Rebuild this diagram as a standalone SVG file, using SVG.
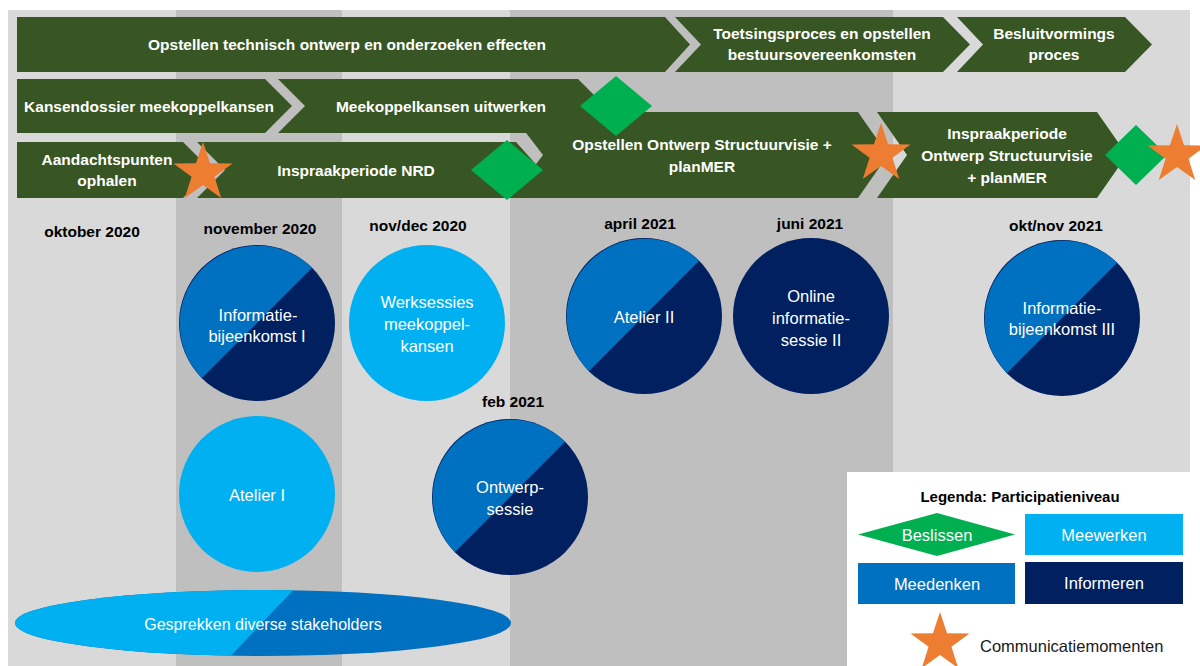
<svg xmlns="http://www.w3.org/2000/svg" xmlns:xlink="http://www.w3.org/1999/xlink" width="1200" height="666" viewBox="0 0 1200 666">
<style>
.arrow{fill:#375623}
.at{font-family:"Liberation Sans",Arial,sans-serif;font-weight:bold;font-size:15.5px;fill:#ffffff;text-anchor:middle}
.month{font-family:"Liberation Sans",Arial,sans-serif;font-weight:bold;font-size:15.5px;fill:#000000;text-anchor:middle}
.ct{font-family:"Liberation Sans",Arial,sans-serif;font-size:16.5px;fill:#ffffff;text-anchor:middle}
.dia{fill:#00b050}
.star{fill:#ed7d31}
.light{fill:#d9d9d9}
.dark{fill:#bfbfbf}
</style>
<defs>
<polygon id="star" points="0,-31 7.05,-9.71 29.48,-9.58 11.41,3.71 18.22,25.08 0,12 -18.22,25.08 -11.41,3.71 -29.48,-9.58 -7.05,-9.71"/>
<g id="split"><circle r="78" fill="#002060"/><path d="M55.15,-55.15 A78,78 0 0 0 -55.15,55.15 Z" fill="#0070c0"/></g>
<clipPath id="ellClip"><ellipse cx="263" cy="623" rx="248" ry="33"/></clipPath>
</defs>
<rect width="1200" height="666" fill="#ffffff"/>
<g id="background">
<rect class="light" x="8" y="10" width="168" height="656"/>
<rect class="dark" x="176" y="10" width="166" height="656"/>
<rect class="light" x="342" y="10" width="168" height="656"/>
<rect class="dark" x="510" y="10" width="383" height="656"/>
<rect class="light" x="893" y="10" width="297" height="656"/>
</g>
<g id="connectors"></g>
<g id="phase-technisch-ontwerp">
<polygon class="arrow" points="17,17 665,17 690,44.5 665,72 17,72"/>
<text class="at" x="347" y="50">Opstellen technisch ontwerp en onderzoeken effecten</text>
</g>
<g id="phase-toetsingsproces">
<polygon class="arrow" points="675,17 943,17 970,44.5 943,72 675,72 701,44.5"/>
<text class="at" x="822" y="39">Toetsingsproces en opstellen</text>
<text class="at" x="822" y="60">bestuursovereenkomsten</text>
</g>
<g id="phase-besluitvorming">
<polygon class="arrow" points="957,17 1125,17 1152,44.5 1125,72 957,72 983,44.5"/>
<text class="at" x="1054" y="39">Besluitvormings</text>
<text class="at" x="1054" y="60">proces</text>
</g>
<g id="phase-kansendossier">
<polygon class="arrow" points="17,79 265,79 292,106 265,133 17,133"/>
<text class="at" x="149" y="112">Kansendossier meekoppelkansen</text>
</g>
<g id="phase-ontwerp-structuurvisie">
<polygon class="arrow" points="510,112 858,112 888,155 858,198 510,198 543,155"/>
<text class="at" x="702" y="150">Opstellen Ontwerp Structuurvisie +</text>
<text class="at" x="702" y="172">planMER</text>
</g>
<g id="phase-meekoppelkansen-uitwerken">
<polygon class="arrow" points="278,79 578,79 605,106 578,133 278,133 305,106"/>
<text class="at" x="441" y="112">Meekoppelkansen uitwerken</text>
</g>
<g id="phase-aandachtspunten">
<polygon class="arrow" points="17,142 183,142 211,170 183,198 17,198"/>
<text class="at" x="107" y="165">Aandachtspunten</text>
<text class="at" x="107" y="186">ophalen</text>
</g>
<g id="phase-inspraak-nrd">
<polygon class="arrow" points="197,142 516,142 541,170 516,198 197,198 225,170"/>
<text class="at" x="356" y="176">Inspraakperiode NRD</text>
</g>
<g id="phase-inspraak-ontwerp">
<polygon class="arrow" points="877,112 1097,112 1127,155 1097,198 877,198 907,155"/>
<text class="at" x="1007" y="139">Inspraakperiode</text>
<text class="at" x="1007" y="161">Ontwerp Structuurvisie</text>
<text class="at" x="1007" y="183">+ planMER</text>
</g>
<g id="decision-1"><polygon class="dia" points="616,76 652,106 616,136 580,106"/></g>
<g id="decision-2"><polygon class="dia" points="507,140 543,170 507,200 471,170"/></g>
<g id="decision-3"><polygon class="dia" points="1136,125 1167,155 1136,185 1105,155"/></g>
<g id="comm-1"><use xlink:href="#star" href="#star" class="star" x="203" y="173"/></g>
<g id="comm-2"><use xlink:href="#star" href="#star" class="star" x="881" y="154"/></g>
<g id="comm-3"><use xlink:href="#star" href="#star" class="star" x="1177" y="155"/></g>
<g id="months">
<text class="month" x="92" y="237">oktober 2020</text>
<text class="month" x="260" y="234">november 2020</text>
<text class="month" x="418" y="231">nov/dec 2020</text>
<text class="month" x="640" y="229">april 2021</text>
<text class="month" x="810" y="229">juni 2021</text>
<text class="month" x="513" y="407">feb 2021</text>
<text class="month" x="1056" y="231">okt/nov 2021</text>
</g>
<g id="informatiebijeenkomst-1" transform="translate(257,323)">
<use xlink:href="#split" href="#split"/>
<text class="ct" x="1" y="-2.5">Informatie-</text>
<text class="ct" x="0" y="18.5">bijeenkomst I</text>
</g>
<g id="atelier-1" transform="translate(257,494)">
<circle r="78" fill="#00b0f0"/>
<text class="ct" x="0" y="6.5">Atelier I</text>
</g>
<g id="werksessies" transform="translate(427,323)">
<circle r="78" fill="#00b0f0"/>
<text class="ct" x="0" y="-15.5">Werksessies</text>
<text class="ct" x="0" y="6.5">meekoppel-</text>
<text class="ct" x="0" y="28.5">kansen</text>
</g>
<g id="atelier-2" transform="translate(644,316)">
<use xlink:href="#split" href="#split"/>
<text class="ct" x="0" y="6.5">Atelier II</text>
</g>
<g id="online-informatiesessie-2" transform="translate(811,316)">
<circle r="78" fill="#002060"/>
<text class="ct" x="0" y="-14.5">Online</text>
<text class="ct" x="0" y="7.5">informatie-</text>
<text class="ct" x="0" y="29.5">sessie II</text>
</g>
<g id="ontwerpsessie" transform="translate(510,497)">
<use xlink:href="#split" href="#split"/>
<text class="ct" x="0" y="-4.5">Ontwerp-</text>
<text class="ct" x="0" y="17.5">sessie</text>
</g>
<g id="informatiebijeenkomst-3" transform="translate(1062,318)">
<use xlink:href="#split" href="#split"/>
<text class="ct" x="0" y="-4.5">Informatie-</text>
<text class="ct" x="0" y="16.5">bijeenkomst III</text>
</g>
<g id="gesprekken-stakeholders">
<ellipse cx="263" cy="623" rx="248" ry="33" fill="#0070c0"/>
<polygon points="10,585 298,585 226,661 10,661" fill="#00b0f0" clip-path="url(#ellClip)"/>
<text class="ct" x="263" y="629.5" style="font-size:16px">Gesprekken diverse stakeholders</text>
</g>
<g id="legend">
<rect x="847" y="472" width="353" height="194" fill="#ffffff"/>
<text class="month" x="1020" y="502" style="font-size:15px">Legenda: Participatieniveau</text>
<polygon class="dia" points="858,534.5 937,513 1015,534.5 937,556"/>
<text class="ct" x="937" y="540.5">Beslissen</text>
<rect x="1025" y="514" width="158" height="41" fill="#00b0f0"/>
<text class="ct" x="1104" y="540.5">Meewerken</text>
<rect x="858" y="563" width="157" height="41" fill="#0070c0"/>
<text class="ct" x="937" y="589.5">Meedenken</text>
<rect x="1025" y="562" width="158" height="42" fill="#002060"/>
<text class="ct" x="1104" y="588.5">Informeren</text>
<use xlink:href="#star" href="#star" class="star" x="940" y="643"/>
<text x="980" y="652" style="font-family:'Liberation Sans',Arial,sans-serif;font-size:16.5px;fill:#1a1a1a">Communicatiemomenten</text>
</g>
</svg>
